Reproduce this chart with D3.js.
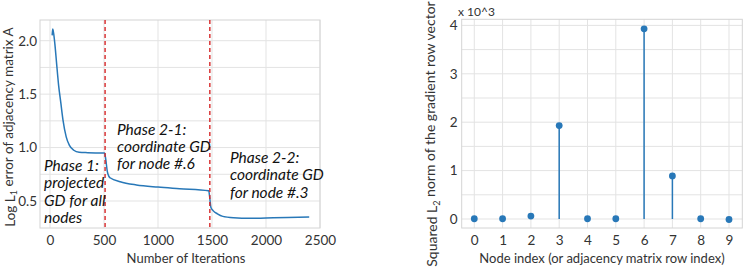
<!DOCTYPE html>
<html>
<head>
<meta charset="utf-8">
<script src="https://cdn.jsdelivr.net/npm/d3@7"></script>
<style>
  body { margin: 0; background: #fff; }
  svg text { font-family: Lato, "Open Sans", sans-serif; fill: #333; }
</style>
</head>
<body>
<div id="chart"></div>
<script>
// Left panel: error curve (iteration, log L1 error)
const iterations = [20, 25, 30, 35, 45, 60, 80, 100, 120, 150, 180, 220, 270, 350, 505, 515, 530, 545, 560, 650, 800, 1000, 1200, 1470, 1478, 1490, 1510, 1550, 1600, 1700, 1850, 2000, 2200, 2400]
const errors = [2.05, 2.11, 2.09, 2.06, 1.97, 1.80, 1.58, 1.42, 1.26, 1.10, 1.02, 0.975, 0.956, 0.952, 0.948, 0.90, 0.78, 0.73, 0.715, 0.68, 0.65, 0.63, 0.615, 0.595, 0.54, 0.44, 0.41, 0.38, 0.356, 0.343, 0.338, 0.341, 0.345, 0.350]
const phaseBreaks = [510, 1480]
const xTicksLeft = [0, 500, 1000, 1500, 2000, 2500]
const yTicksLeft = [0.5, 1.0, 1.5, 2.0]
const yGridLeft = [0.5, 0.75, 1.0, 1.25, 1.5, 1.75, 2.0]

// Right panel: squared L2 norm per node (x 10^3)
const nodes = [0, 1, 2, 3, 4, 5, 6, 7, 8, 9]
const norms = [0.005, 0.005, 0.06, 1.93, 0.005, 0.005, 3.93, 0.89, 0.005, -0.01]
const yTicksRight = [0, 1, 2, 3, 4]
const yGridRight = [0, 0.5, 1, 1.5, 2, 2.5, 3, 3.5, 4]

const blue = '#2878b8'
const gridColor = '#e3e3e3'
const spineColor = '#d4d4d4'

const svg = d3.select('#chart').append('svg')
  .attr('width', 747)
  .attr('height', 271)

// ---------- Left panel ----------
const L = { left: 40, right: 320, top: 20, bottom: 228 }
const xL = d3.scaleLinear().domain([-92.6, 2500]).range([L.left, L.right])
const yL = d3.scaleLinear().domain([0.2474, 2.1936]).range([L.bottom, L.top])

const gL = svg.append('g')

gL.selectAll('.vgrid').data(xTicksLeft).enter().append('line')
  .attr('x1', d => xL(d)).attr('x2', d => xL(d))
  .attr('y1', L.top).attr('y2', L.bottom)
  .attr('stroke', gridColor)
gL.selectAll('.hgrid').data(yGridLeft).enter().append('line')
  .attr('x1', L.left).attr('x2', L.right)
  .attr('y1', d => yL(d)).attr('y2', d => yL(d))
  .attr('stroke', gridColor)
gL.append('rect')
  .attr('x', L.left).attr('y', L.top)
  .attr('width', L.right - L.left).attr('height', L.bottom - L.top)
  .attr('fill', 'none').attr('stroke', spineColor)

// Tick labels
const axL = gL.append('g')
  .attr('transform', `translate(0,${L.bottom})`)
  .call(d3.axisBottom(xL).tickValues(xTicksLeft).tickFormat(d3.format('d')).tickSize(0).tickPadding(7))
const ayL = gL.append('g')
  .attr('transform', `translate(${L.left},0)`)
  .call(d3.axisLeft(yL).tickValues(yTicksLeft).tickFormat(d3.format('.1f')).tickSize(0).tickPadding(3))
;[axL, ayL].forEach(a => {
  a.select('.domain').remove()
  a.selectAll('text').style('font-size', '13.5px').style('fill', '#333')
})

// Curve
gL.append('path')
  .datum(iterations.map((d, i) => [d, errors[i]]))
  .attr('fill', 'none')
  .attr('stroke', blue)
  .attr('stroke-width', 1.5)
  .attr('d', d3.line().x(d => xL(d[0])).y(d => yL(d[1])).curve(d3.curveMonotoneX))

// Phase separators
gL.selectAll('.phase').data(phaseBreaks).enter().append('line')
  .attr('x1', d => xL(d)).attr('x2', d => xL(d))
  .attr('y1', L.top).attr('y2', L.bottom)
  .attr('stroke', '#d62728')
  .attr('stroke-width', 1.4)
  .attr('stroke-dasharray', '4,3')

// Annotations
const notes = [
  { x: 44, y: 165.7, lines: ['Phase 1:', 'projected', 'GD for all', 'nodes'] },
  { x: 117, y: 129.3, lines: ['Phase 2-1:', 'coordinate GD', 'for node #.6'] },
  { x: 230, y: 157.7, lines: ['Phase 2-2:', 'coordinate GD', 'for node #.3'] }
]
notes.forEach(n => {
  const t = gL.append('text')
    .attr('x', n.x).attr('y', n.y)
    .style('font-size', '15.5px')
    .style('font-style', 'italic')
    .style('fill', '#111')
  n.lines.forEach((s, i) => {
    t.append('tspan')
      .attr('x', n.x)
      .attr('y', n.y + i * 17.3)
      .attr('dy', '0.35em')
      .text(s)
  })
})

// Axis titles
gL.append('text')
  .attr('x', 186).attr('y', 258)
  .attr('dy', '0.35em')
  .attr('text-anchor', 'middle')
  .style('font-size', '13px')
  .text('Number of Iterations')

const yTitleL = gL.append('text')
  .attr('transform', 'translate(10,127) rotate(-90)')
  .attr('dy', '0.35em')
  .attr('text-anchor', 'middle')
  .style('font-size', '13.5px')
yTitleL.append('tspan').text('Log L')
yTitleL.append('tspan').attr('dy', '0.3em').style('font-size', '9px').text('1')
yTitleL.append('tspan').attr('dy', '-0.3em').text(' error of adjacency matrix A')

// ---------- Right panel ----------
const R = { left: 461.7, right: 742.3, top: 19.3, bottom: 228 }
const xR = d3.scaleLinear().domain([-0.445, 9.47]).range([R.left, R.right])
const yR = d3.scaleLinear().domain([-0.186, 4.126]).range([R.bottom, R.top])

const gR = svg.append('g')

gR.selectAll('.vgrid').data(nodes).enter().append('line')
  .attr('x1', d => xR(d)).attr('x2', d => xR(d))
  .attr('y1', R.top).attr('y2', R.bottom)
  .attr('stroke', gridColor)
gR.selectAll('.hgrid').data(yGridRight).enter().append('line')
  .attr('x1', R.left).attr('x2', R.right)
  .attr('y1', d => yR(d)).attr('y2', d => yR(d))
  .attr('stroke', gridColor)
gR.append('rect')
  .attr('x', R.left).attr('y', R.top)
  .attr('width', R.right - R.left).attr('height', R.bottom - R.top)
  .attr('fill', 'none').attr('stroke', spineColor)

const axR = gR.append('g')
  .attr('transform', `translate(0,${R.bottom})`)
  .call(d3.axisBottom(xR).tickValues(nodes).tickSize(0).tickPadding(7))
const ayR = gR.append('g')
  .attr('transform', `translate(${R.left},0)`)
  .call(d3.axisLeft(yR).tickValues(yTicksRight).tickFormat(d3.format('d')).tickSize(0).tickPadding(4))
;[axR, ayR].forEach(a => {
  a.select('.domain').remove()
  a.selectAll('text').style('font-size', '13.5px').style('fill', '#333')
})

// Stems and markers
gR.selectAll('.stem').data(nodes).enter().append('line')
  .attr('x1', d => xR(d)).attr('x2', d => xR(d))
  .attr('y1', yR(0)).attr('y2', (d, i) => yR(norms[i]))
  .attr('stroke', blue)
  .attr('stroke-width', 1.5)
gR.selectAll('.dot').data(nodes).enter().append('circle')
  .attr('cx', d => xR(d))
  .attr('cy', (d, i) => yR(norms[i]))
  .attr('r', 3.4)
  .attr('fill', blue)

gR.append('text')
  .attr('x', 458).attr('y', 11.7)
  .attr('dy', '0.35em')
  .style('font-size', '12px')
  .text('x 10^3')

gR.append('text')
  .attr('x', 602).attr('y', 258)
  .attr('dy', '0.35em')
  .attr('text-anchor', 'middle')
  .style('font-size', '13px')
  .text('Node index (or adjacency matrix row index)')

const yTitleR = gR.append('text')
  .attr('transform', 'translate(432,134) rotate(-90)')
  .attr('dy', '0.35em')
  .attr('text-anchor', 'middle')
  .style('font-size', '14px')
yTitleR.append('tspan').text('Squared L')
yTitleR.append('tspan').attr('dy', '0.3em').style('font-size', '9px').text('2')
yTitleR.append('tspan').attr('dy', '-0.3em').text(' norm of the gradient row vector')
</script>
</body>
</html>
